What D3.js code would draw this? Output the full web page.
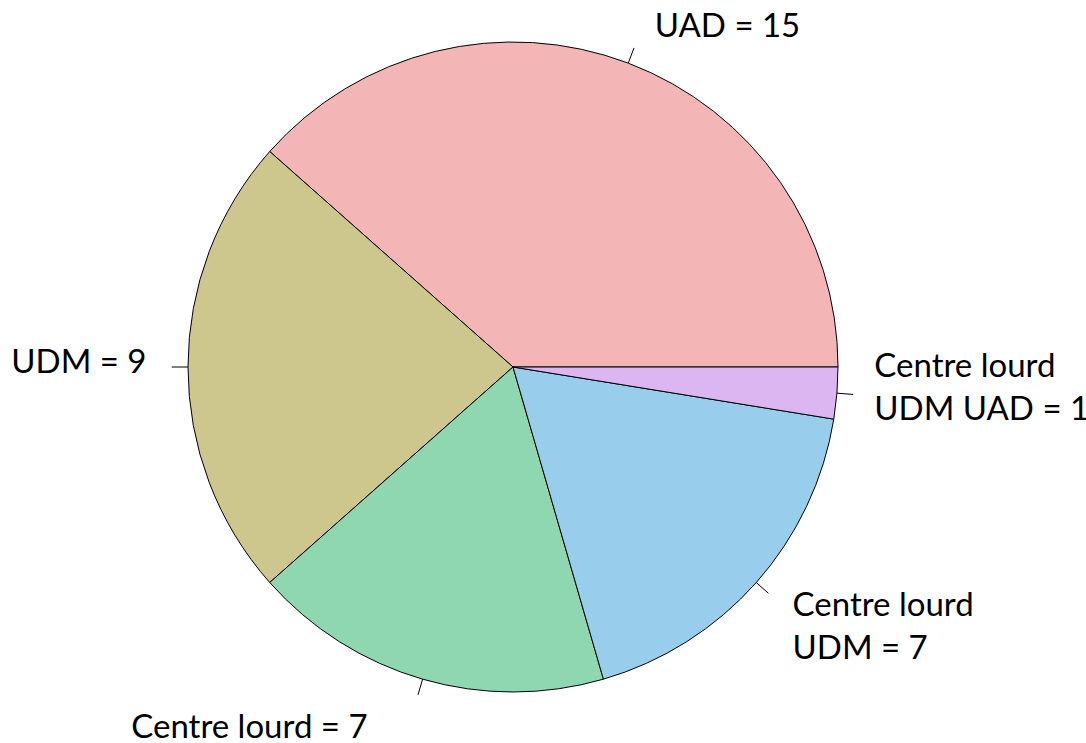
<!DOCTYPE html>
<html>
<head>
<meta charset="utf-8">
<script src="https://cdn.jsdelivr.net/npm/d3@7"></script>
<style>
  html, body { margin: 0; padding: 0; background: #fff; }
  svg text { font-family: Lato, "Open Sans", sans-serif; font-size: 33px; fill: #000; }
</style>
</head>
<body>
<div id="chart"></div>
<script>
const WIDTH = 1086;
const HEIGHT = 743;

const CX = 513;
const CY = 367;
const RADIUS = 325;

// slices in R pie order, counterclockwise from 3 o'clock
const categories = ['UAD', 'UDM', 'Centre lourd', 'Centre lourd UDM', 'Centre lourd UDM UAD'];
const counts = [15, 9, 7, 7, 1];
const colors = ['#F4B5B7', '#CEC78D', '#8FD7B1', '#98CEEC', '#DCB6F1'];
const labelLines = [
  ['UAD = 15'],
  ['UDM = 9'],
  ['Centre lourd = 7'],
  ['Centre lourd', 'UDM = 7'],
  ['Centre lourd', 'UDM UAD = 1']
];
// small hand nudges so labels sit where the original put them
const labelNudge = [[15, 4], [-9, 6], [-46, 28], [12, 12], [5, -19]];

const LINE_HEIGHT = 43;

const svg = d3.select('#chart').append('svg')
  .attr('width', WIDTH)
  .attr('height', HEIGHT);

const g = svg.append('g')
  .attr('transform', `translate(${CX}, ${CY})`);

const pie = d3.pie()
  .sort(null)
  .value(d => d.count)
  .startAngle(Math.PI / 2)
  .endAngle(Math.PI / 2 - 2 * Math.PI);

const data = categories.map((c, i) => ({ name: c, count: counts[i], i }));
const arcs = pie(data);

const arc = d3.arc().innerRadius(0).outerRadius(RADIUS);

g.append('g').attr('id', 'slices')
  .selectAll('path')
  .data(arcs)
  .join('path')
  .attr('d', arc)
  .attr('fill', d => colors[d.data.i])
  .attr('stroke', '#000')
  .attr('stroke-width', 1);

const mid = d => (d.startAngle + d.endAngle) / 2;
const px = (a, r) => r * Math.sin(a);
const py = (a, r) => -r * Math.cos(a);

g.append('g').attr('id', 'ticks')
  .selectAll('line')
  .data(arcs)
  .join('line')
  .attr('x1', d => px(mid(d), RADIUS))
  .attr('y1', d => py(mid(d), RADIUS))
  .attr('x2', d => px(mid(d), RADIUS * 1.05))
  .attr('y2', d => py(mid(d), RADIUS * 1.05))
  .attr('stroke', '#000')
  .attr('stroke-width', 1);

const labels = g.append('g').attr('id', 'labels')
  .selectAll('text')
  .data(arcs)
  .join('text')
  .attr('text-anchor', d => px(mid(d), 1) > 0 ? 'start' : 'end')
  .attr('x', d => px(mid(d), RADIUS * 1.1) + labelNudge[d.data.i][0])
  .attr('y', d => py(mid(d), RADIUS * 1.1) + labelNudge[d.data.i][1]);

labels.each(function(d) {
  const t = d3.select(this);
  const x = t.attr('x');
  labelLines[d.data.i].forEach((line, k) => {
    t.append('tspan')
      .attr('x', x)
      .attr('dy', k === 0 ? 0 : LINE_HEIGHT)
      .text(line);
  });
});
</script>
</body>
</html>
